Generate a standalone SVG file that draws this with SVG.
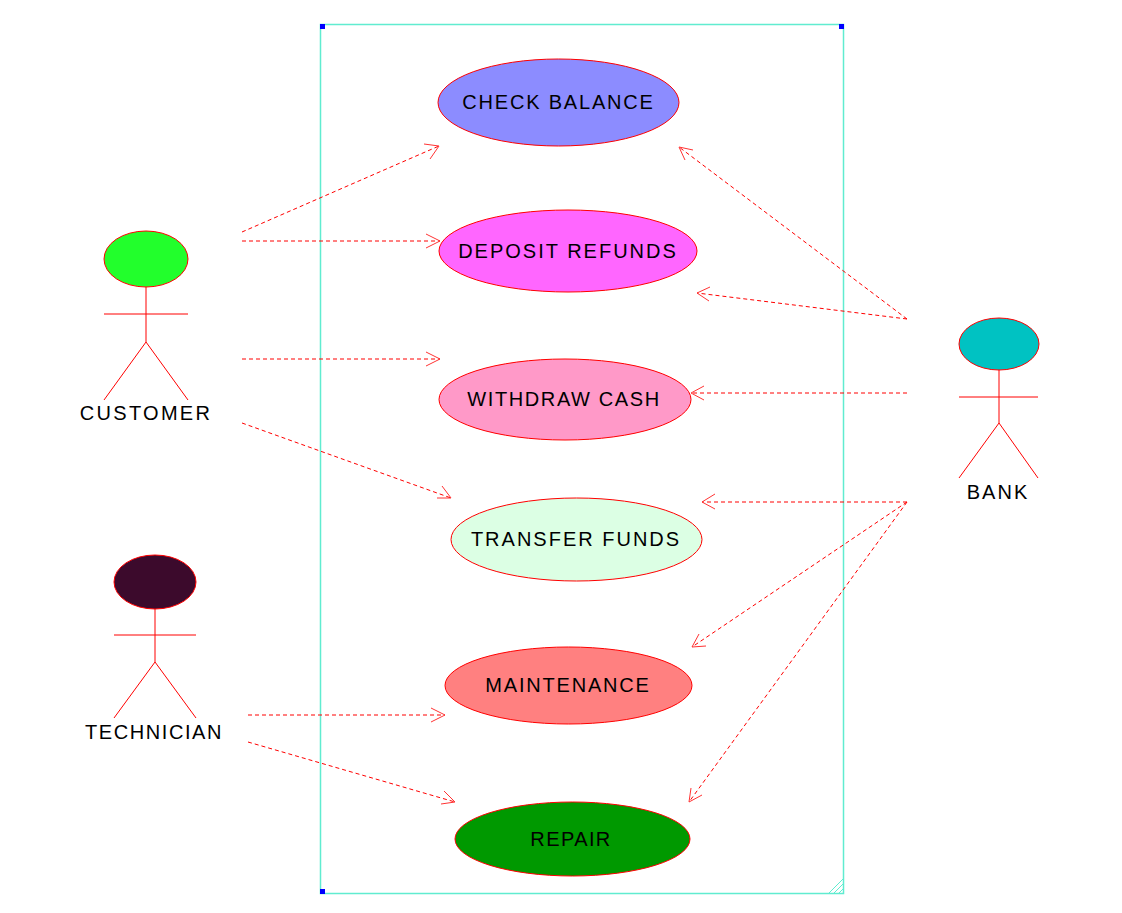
<svg xmlns="http://www.w3.org/2000/svg" width="1122" height="913" viewBox="0 0 1122 913">
<style>
text{font-family:"Liberation Sans",Arial,sans-serif;font-size:20px;letter-spacing:2px;fill:#000;text-anchor:middle}
.n{stroke:#ff0000;stroke-width:1}
.l{stroke:#ff0000;stroke-width:1;fill:none}
.c{stroke:#ff0000;stroke-width:1;fill:none;stroke-dasharray:4 3}
.h{stroke:#ff3333;stroke-width:1;fill:none}
.b{stroke:#60ecd0;stroke-width:1.5;fill:none}
</style>
<rect width="1122" height="913" fill="#fff"/>
<g id="boundary">
<rect class="b" x="320.500" y="24.500" width="523" height="869"/>
<path d="M829 893L843 879M834 893L843 884M839 893L843 889" stroke="#60ecd0" fill="none"/>
<rect x="320" y="24" width="5" height="5" fill="#0000ff"/>
<rect x="839" y="24" width="5" height="5" fill="#0000ff"/>
<rect x="320" y="889" width="5" height="5" fill="#0000ff"/>
</g>
<g id="connectors">
<path class="c" d="M242 232L439 146"/><path class="h" d="M424 144L439 146L430 159"/>
<path class="c" d="M242 241L440 241"/><path class="h" d="M426 234L440 241L426 248"/>
<path class="c" d="M242 359L440 359"/><path class="h" d="M426 352L440 359L426 366"/>
<path class="c" d="M242 423L451 498"/><path class="h" d="M437 498L451 498L442 486"/>
<path class="c" d="M907 319L679 147"/><path class="h" d="M693 150L679 147L685 160"/>
<path class="c" d="M907 319L697 293"/><path class="h" d="M710 287L697 293L709 301"/>
<path class="c" d="M907 393L691 393"/><path class="h" d="M704 386L691 393L704 400"/>
<path class="c" d="M907 502L702 502"/><path class="h" d="M715 494L702 502L715 509"/>
<path class="c" d="M907 502L692 647"/><path class="h" d="M699 634L692 647L706 646"/>
<path class="c" d="M907 502L689 802"/><path class="h" d="M691 788L689 802L702 795"/>
<path class="c" d="M248 715L445 715"/><path class="h" d="M431 708L445 715L431 722"/>
<path class="c" d="M248 742L455 802"/><path class="h" d="M441 804L455 802L444 791"/>
</g>
<g id="customer">
<ellipse class="n" cx="146" cy="259" rx="42" ry="28" fill="#22ff2c"/>
<path class="l" d="M146 287V342M104 314H188M146 342L104 400M146 342L188 400"/>
<text x="146" y="420" style="letter-spacing:2.3px">CUSTOMER</text>
</g>
<g id="technician">
<ellipse class="n" cx="155" cy="582" rx="41" ry="27" fill="#3c0a2c"/>
<path class="l" d="M155 609V662M114 635H196M155 662L114 718M155 662L196 718"/>
<text x="154" y="739" style="letter-spacing:1.6px">TECHNICIAN</text>
</g>
<g id="bank">
<ellipse class="n" cx="999" cy="344" rx="40" ry="26" fill="#00c2c2"/>
<path class="l" d="M999 370V423M959 397H1038M999 423L959 478M999 423L1038 478"/>
<text x="998" y="499">BANK</text>
</g>
<g id="check-balance">
<ellipse class="n" cx="558.500" cy="102.500" rx="120.500" ry="43.500" fill="#8c8cff"/>
<text x="558.500" y="109" style="letter-spacing:1.8px">CHECK BALANCE</text>
</g>
<g id="deposit-refunds">
<ellipse class="n" cx="568" cy="251" rx="129" ry="41" fill="#ff66ff"/>
<text x="568" y="258">DEPOSIT REFUNDS</text>
</g>
<g id="withdraw-cash">
<ellipse class="n" cx="565" cy="399.500" rx="126" ry="40.500" fill="#ff99c8"/>
<text x="564" y="406" style="letter-spacing:1.6px">WITHDRAW CASH</text>
</g>
<g id="transfer-funds">
<ellipse class="n" cx="576.500" cy="539.500" rx="125.500" ry="41.500" fill="#dcffe4"/>
<text x="576" y="546">TRANSFER FUNDS</text>
</g>
<g id="maintenance">
<ellipse class="n" cx="568.500" cy="685.500" rx="123.500" ry="38.500" fill="#ff8080"/>
<text x="568" y="692" style="letter-spacing:1.8px">MAINTENANCE</text>
</g>
<g id="repair">
<ellipse class="n" cx="572.500" cy="839" rx="117.500" ry="37" fill="#009900"/>
<text x="571" y="846" style="letter-spacing:1.4px">REPAIR</text>
</g>
</svg>
